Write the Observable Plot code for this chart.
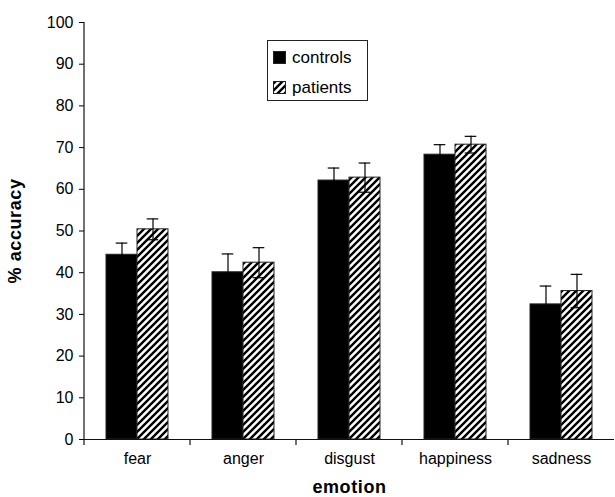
<!DOCTYPE html>
<html>
<head>
<meta charset="utf-8">
<script src="https://cdn.jsdelivr.net/npm/d3@7"></script>
<script src="https://cdn.jsdelivr.net/npm/@observablehq/plot@0.6"></script>
<style>
  body { margin: 0; background: white; }
  #chart { position: relative; width: 615px; height: 497px; }
</style>
</head>
<body>
<div id="chart"></div>
<script>
const emotions = ["fear", "anger", "disgust", "happiness", "sadness"];
const groups = ["controls", "patients"];
const controls = [44.3, 40.1, 62.1, 68.3, 32.4];
const patients = [50.4, 42.4, 62.8, 70.7, 35.6];
const controlsErr = [2.8, 4.4, 3.0, 2.4, 4.4];
const patientsErr = [2.5, 3.6, 3.5, 2.0, 4.0];
const yTicks = [0, 10, 20, 30, 40, 50, 60, 70, 80, 90, 100];

const data = [];
emotions.forEach((e, i) => {
  data.push({emotion: e, group: "controls", value: controls[i], err: controlsErr[i]});
  data.push({emotion: e, group: "patients", value: patients[i], err: patientsErr[i]});
});

const plot = Plot.plot({
  width: 615,
  height: 497,
  marginLeft: 82,
  marginRight: 0,
  marginTop: 22,
  marginBottom: 58,
  style: {fontFamily: "'Liberation Sans', Arial, sans-serif", fontSize: "16px", color: "black", background: "white"},
  fx: {domain: emotions, paddingInner: 0, paddingOuter: 0, label: "emotion", labelAnchor: "center", labelOffset: 53, tickSize: 0, tickPadding: 13},
  x: {domain: groups, paddingInner: 0, paddingOuter: 0.7, axis: null},
  y: {domain: [0, 100], ticks: yTicks, tickSize: 5, tickPadding: 6, label: "% accuracy", labelAnchor: "center", labelOffset: 76, labelArrow: "none"},
  color: {domain: groups, range: ["black", "url(#hatch)"]},
  marks: [
    Plot.barY(data, {fx: "emotion", x: "group", y: "value", fill: "group", stroke: "#222", strokeWidth: 1}),
    Plot.ruleX(data, {fx: "emotion", x: "group", y1: d => d.value - d.err, y2: d => d.value + d.err, stroke: "#000", strokeWidth: 1.2}),
    Plot.tickY(data, {fx: "emotion", x: "group", y: d => d.value + d.err, stroke: "#000", strokeWidth: 1.2, insetLeft: 9.7, insetRight: 9.7}),
    Plot.tickY(data, {fx: "emotion", x: "group", y: d => d.value - d.err, stroke: "#000", strokeWidth: 1.2, insetLeft: 9.7, insetRight: 9.7}),
    Plot.ruleY([0], {stroke: "#111", strokeWidth: 1.2})
  ]
});

const svg = d3.select(plot);
const defs = svg.insert("defs", ":first-child");
const pat = defs.append("pattern")
  .attr("id", "hatch").attr("patternUnits", "userSpaceOnUse")
  .attr("width", 7).attr("height", 7);
pat.append("rect").attr("width", 7).attr("height", 7).attr("fill", "white");
pat.append("path").attr("d", "M-1,8 L8,-1 M-4.5,4.5 L4.5,-4.5 M2.5,11.5 L11.5,2.5")
  .attr("stroke", "black").attr("stroke-width", 2.4);

// bold axis titles
svg.selectAll('g[aria-label$="axis label"]').attr("font-weight", "bold").attr("font-size", 18)
  .attr("letter-spacing", 0.6);

// y axis line and category boundary ticks
const fx = plot.scale("fx");
const y = plot.scale("y");
const y0 = y.apply(0);
const xLeft = fx.apply(emotions[0]);
svg.append("line").attr("stroke", "#111").attr("stroke-width", 1.2)
  .attr("x1", xLeft).attr("x2", xLeft).attr("y1", y.apply(100)).attr("y2", y0);
svg.append("g").attr("stroke", "#111").attr("stroke-width", 1.2)
  .selectAll("line").data(emotions).join("line")
  .attr("x1", d => fx.apply(d)).attr("x2", d => fx.apply(d))
  .attr("y1", y0).attr("y2", y0 + 6);

// legend
const lg = svg.append("g").attr("font-size", 17).attr("text-anchor", "start");
lg.append("rect").attr("x", 267.5).attr("y", 40.5).attr("width", 100).attr("height", 60)
  .attr("fill", "white").attr("stroke", "#222");
const entries = [{g: "controls", fill: "black", y: 51}, {g: "patients", fill: "url(#hatch)", y: 81}];
entries.forEach(e => {
  lg.append("rect").attr("x", 273.5).attr("y", e.y + 0.5).attr("width", 12).attr("height", 12)
    .attr("fill", e.fill).attr("stroke", "#222");
  lg.append("text").attr("x", 292).attr("y", e.y + 12).text(e.g);
});

document.getElementById("chart").appendChild(plot);
</script>
</body>
</html>
